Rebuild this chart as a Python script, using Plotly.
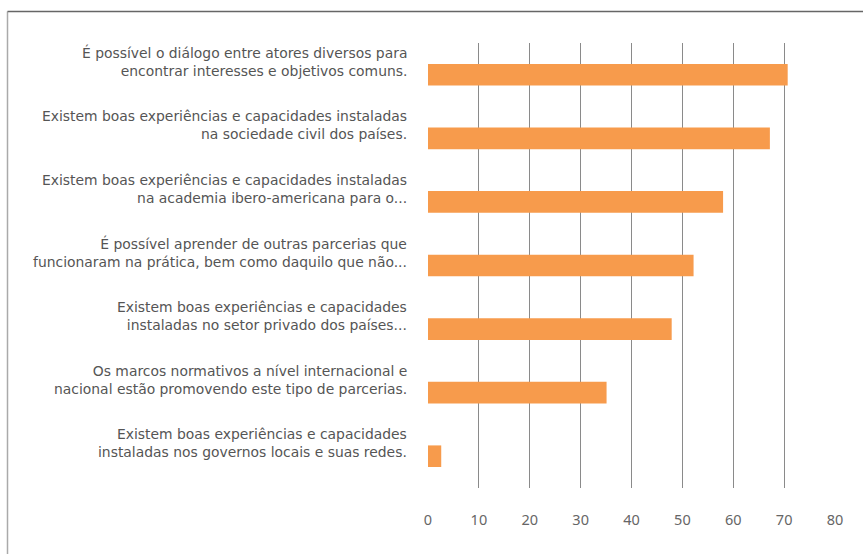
import plotly.graph_objects as go

categories = [
    "É possível o diálogo entre atores diversos para<br>encontrar interesses e objetivos comuns.",
    "Existem boas experiências e capacidades instaladas<br>na sociedade civil dos países.",
    "Existem boas experiências e capacidades instaladas<br>na academia ibero-americana para o...",
    "É possível aprender de outras parcerias que<br>funcionaram na prática, bem como daquilo que não...",
    "Existem boas experiências e capacidades<br>instaladas no setor privado dos países...",
    "Os marcos normativos a nível internacional e<br>nacional estão promovendo este tipo de parcerias.",
    "Existem boas experiências e capacidades<br>instaladas nos governos locais e suas redes.",
]
values = [70.7, 67.2, 58.0, 52.2, 47.9, 35.1, 2.6]
tick_vals = [0, 10, 20, 30, 40, 50, 60, 70, 80]

W, H = 863, 554
L, R, T, B = 428, 835, 43, 488

fig = go.Figure()
fig.add_trace(go.Bar(
    x=values, y=list(range(len(categories))), orientation="h",
    marker=dict(color="#F79B4C", line=dict(width=0)),
    width=0.34, hoverinfo="x",
))

annotations = []
for i, c in enumerate(categories):
    annotations.append(dict(
        x=0, xref="paper", y=i, yref="y", text=c, showarrow=False,
        xanchor="right", yanchor="middle", align="right", xshift=-19, yshift=13,
        font=dict(family="DejaVu Sans", size=13.9, color="#555555"),
    ))

def px_x(p):
    return (p - L) / (R - L)

def px_y(p):
    return (B - p) / (B - T)

shapes = [
    dict(type="line", xref="paper", yref="paper", x0=px_x(7.5), x1=px_x(7.5),
         y0=px_y(11.5), y1=px_y(560), line=dict(color="#aaaaaa", width=1.5)),
    dict(type="line", xref="paper", yref="paper", x0=px_x(7.5), x1=px_x(870),
         y0=px_y(11.5), y1=px_y(11.5), line=dict(color="#666666", width=1.5)),
]

fig.update_layout(
    width=W, height=H,
    margin=dict(l=L, r=W - R, t=T, b=H - B, pad=0),
    paper_bgcolor="white", plot_bgcolor="white",
    showlegend=False,
    annotations=annotations, shapes=shapes,
    xaxis=dict(range=[0, 80], tickvals=tick_vals, showgrid=True, gridcolor="#8a8a8a",
               gridwidth=1, zeroline=False, showline=False, ticks="",
               ticklabelstandoff=21,
               tickfont=dict(family="Noto Sans", size=14.5, color="#666666")),
    yaxis=dict(range=[6.5, -0.5], showticklabels=False, showgrid=False,
               zeroline=False, showline=False, ticks=""),
)
fig.write_html("out.html", config={"displayModeBar": False},
               post_script="document.body.style.margin='0';")
